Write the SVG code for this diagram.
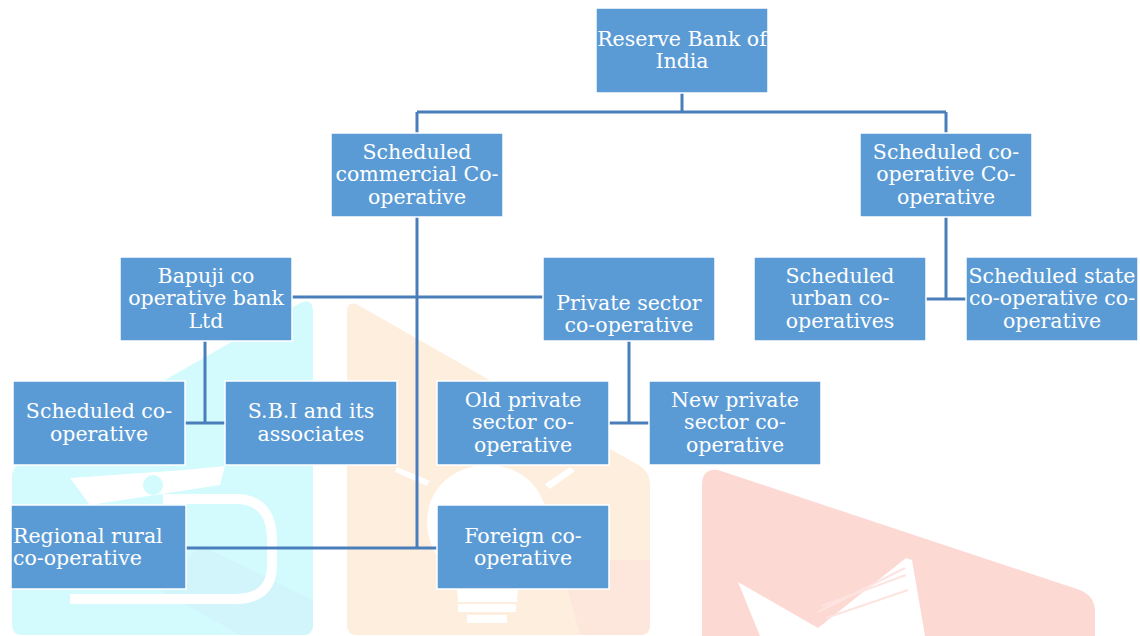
<svg xmlns="http://www.w3.org/2000/svg" width="1140" height="636" viewBox="0 0 1140 636">
<style>
.box{fill:#5B9BD5;stroke:#FFFFFF;stroke-width:1.5}
.t{font-family:"DejaVu Serif","Liberation Serif",serif;font-size:20.5px;fill:#FFFFFF;text-anchor:middle}
.tl{text-anchor:start}
.c{stroke:#4A7EBB;stroke-width:3;fill:none}
.w{fill:#FFFFFF}
</style>
<rect width="1140" height="636" fill="#FFFFFF"/>
<g id="watermark">
<path d="M12,478 Q12,465 25,460 L300,303 Q313,297 313,312 L313,625 Q313,635 303,635 L22,635 Q12,635 12,625 Z" fill="#D3FBFD"/>
<path d="M200,545 L313,600 L313,625 Q313,635 303,635 L240,635 L160,590 Z" fill="#D2F4FB"/>
<path d="M163,499 H235 Q272,499 272,540 V565 Q272,599 235,599 H70" fill="none" stroke="#FFFFFF" stroke-width="10"/>
<path d="M70,478 L185,470 L225,466 L220,485 L90,505 Z" class="w"/>
<circle cx="153" cy="485" r="10" fill="#D3FBFD"/>
<path d="M347,313 Q347,300 358,305 L640,466 Q650,472 650,485 L650,625 Q650,635 640,635 L357,635 Q347,635 347,625 Z" fill="#FEEEDD"/>
<path d="M560,560 L650,560 L650,625 Q650,635 640,635 L580,635 Z" fill="#FDE6DB"/>
<path d="M487,465 C455,465 427,488 427,522 C427,550 445,565 457,590 L458,602 L517,602 L518,590 C530,565 547,550 547,522 C547,488 520,465 487,465 Z" class="w"/>
<rect x="458" y="604" width="58" height="8" class="w"/>
<rect x="467" y="615" width="40" height="8" class="w"/>
<path d="M397,467 L430,481 L427,486 L395,472 Z M545,484 L570,467 L575,471 L550,489 Z" class="w"/>
<path d="M702,485 Q702,468 718,470 L1080,590 Q1095,596 1095,612 L1095,636 L702,636 Z" fill="#FDD9D4"/>
<path d="M738,582 L818,628 L906,558 L912,560 L925,636 L760,636 Z" class="w"/>
<path d="M818,612 L905,568 M822,606 L906,575 M826,618 L908,590" stroke="#FDE4E0" stroke-width="2" fill="none"/>
</g>
<g id="connectors">
<path class="c" d="M682,93 V112 M417,112 H946 M417,112 V133 M946,112 V133"/>
<path class="c" d="M417,217 V548 M186,548 H437"/>
<path class="c" d="M292,297 H543"/>
<path class="c" d="M205,341 V423 M185,423 H225"/>
<path class="c" d="M629,341 V423 M609,423 H649"/>
<path class="c" d="M946,217 V299 M926,299 H966"/>
</g>
<g id="rbi"><rect class="box" x="596" y="8" width="172" height="85"/><text class="t" x="682" y="46">Reserve Bank of</text><text class="t" x="682" y="68">India</text></g>
<g id="sched-commercial"><rect class="box" x="331" y="133" width="172" height="84"/><text class="t" x="417" y="159">Scheduled</text><text class="t" x="417" y="181">commercial Co-</text><text class="t" x="417" y="204">operative</text></g>
<g id="sched-coop-coop"><rect class="box" x="860" y="133" width="172" height="84"/><text class="t" x="946" y="159">Scheduled co-</text><text class="t" x="946" y="181">operative Co-</text><text class="t" x="946" y="204">operative</text></g>
<g id="bapuji"><rect class="box" x="120" y="257" width="172" height="84"/><text class="t" x="206" y="283">Bapuji co</text><text class="t" x="206" y="305">operative bank</text><text class="t" x="206" y="328">Ltd</text></g>
<g id="private"><rect class="box" x="543" y="257" width="172" height="84"/><text class="t" x="629" y="310">Private sector</text><text class="t" x="629" y="332">co-operative</text></g>
<g id="urban"><rect class="box" x="754" y="257" width="172" height="84"/><text class="t" x="840" y="283">Scheduled</text><text class="t" x="840" y="305">urban co-</text><text class="t" x="840" y="328">operatives</text></g>
<g id="state"><rect class="box" x="966" y="257" width="172" height="84"/><text class="t" x="1052" y="283">Scheduled state</text><text class="t" x="1052" y="305">co-operative co-</text><text class="t" x="1052" y="328">operative</text></g>
<g id="sched-coop"><rect class="box" x="13" y="381" width="172" height="84"/><text class="t" x="99" y="418">Scheduled co-</text><text class="t" x="99" y="441">operative</text></g>
<g id="sbi"><rect class="box" x="225" y="381" width="172" height="84"/><text class="t" x="311" y="418">S.B.I and its</text><text class="t" x="311" y="441">associates</text></g>
<g id="old-private"><rect class="box" x="437" y="381" width="172" height="84"/><text class="t" x="523" y="407">Old private</text><text class="t" x="523" y="429">sector co-</text><text class="t" x="523" y="452">operative</text></g>
<g id="new-private"><rect class="box" x="649" y="381" width="172" height="84"/><text class="t" x="735" y="407">New private</text><text class="t" x="735" y="429">sector co-</text><text class="t" x="735" y="452">operative</text></g>
<g id="regional"><rect class="box" x="11" y="505" width="175" height="84"/><text class="t tl" x="13" y="543">Regional rural</text><text class="t tl" x="13" y="565">co-operative</text></g>
<g id="foreign"><rect class="box" x="437" y="505" width="172" height="84"/><text class="t" x="523" y="543">Foreign co-</text><text class="t" x="523" y="565">operative</text></g>
</svg>
